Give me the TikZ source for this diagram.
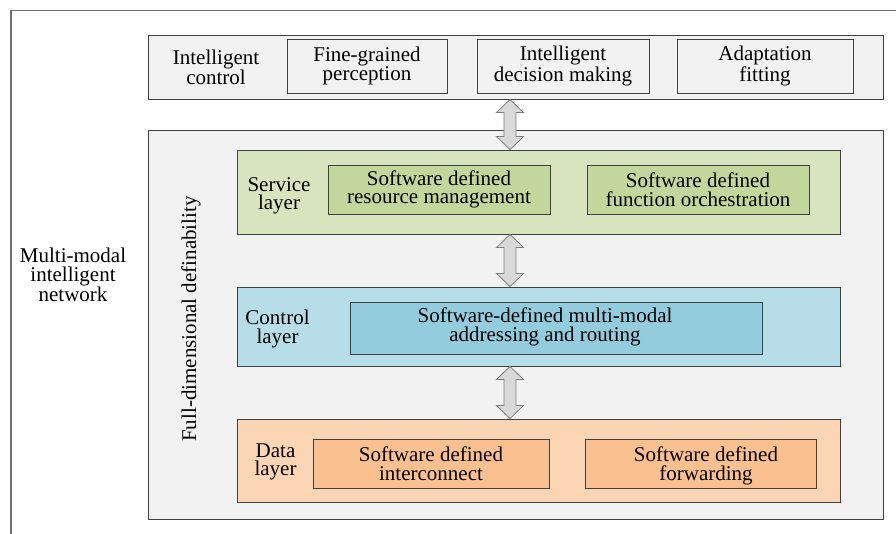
\documentclass[tikz,border=0pt]{standalone}
\usepackage{fontspec}
\setmainfont{Liberation Serif}
\usetikzlibrary{calc}

\definecolor{panelgray}{HTML}{F2F2F2}
\definecolor{framegray}{HTML}{6F6F6F}
\definecolor{edgegray}{HTML}{404040}
\definecolor{svcouter}{HTML}{D7E4BD}
\definecolor{svcinner}{HTML}{C3D69B}
\definecolor{ctlouter}{HTML}{B7DEE8}
\definecolor{ctlinner}{HTML}{93CDDD}
\definecolor{datouter}{HTML}{FCD5B5}
\definecolor{datinner}{HTML}{FAC090}
\definecolor{arrowfill}{HTML}{D9D9D9}
\definecolor{arrowedge}{HTML}{7F7F7F}

\tikzset{
  txt/.style={font=\fontsize{21}{18.5}\selectfont, align=center, inner sep=0pt},
  panel/.style={draw=edgegray, line width=1pt, fill=panelgray, inner sep=0pt},
  layerbox/.style={draw=edgegray, line width=1pt, inner sep=0pt},
  itembox/.style={draw=edgegray, line width=1pt, inner sep=0pt, txt},
  bigarrow/.style={draw=arrowedge, line width=0.8pt, fill=arrowfill, line join=miter},
}

% vertical two-headed block arrow between two stacked boxes
\newcommand\updown[2]{%
  \path[bigarrow] let \p1=(#1.south), \p2=(#2.north) in
    (510pt,\y1) -- (523.5pt,\y1-13pt) -- (516pt,\y1-13pt) -- (516pt,\y2+13pt)
    -- (523.5pt,\y2+13pt) -- (510pt,\y2) -- (496.5pt,\y2+13pt) -- (504pt,\y2+13pt)
    -- (504pt,\y1-13pt) -- (496.5pt,\y1-13pt) -- cycle;}

\begin{document}
\begin{tikzpicture}[x=1pt, y=-1pt]
  \useasboundingbox (0,0) rectangle (896,533);

  % outer frame, open to the right and bottom
  \draw[framegray, line width=1.4pt] (11,540) -- (11,10.5) -- (900,10.5);

  \node[txt] (net) at (73,275) {Multi-modal\\intelligent\\network};

  % top row: intelligence functions
  \node[panel, minimum width=735pt, minimum height=64pt] (top) at (515.5,67) {};
  \node[txt] (ictl) at (216,67) {Intelligent\\control};
  \node[itembox, fill=panelgray, minimum width=160pt, minimum height=54pt] (fgp) at (367,66) {Fine-grained\\perception};
  \node[itembox, fill=panelgray, minimum width=172pt, minimum height=54pt] (idm) at (563,66) {Intelligent\\decision making};
  \node[itembox, fill=panelgray, minimum width=176pt, minimum height=54pt] (adf) at (765,66) {Adaptation\\fitting};

  % definability panel
  \node[panel, minimum width=735pt, minimum height=389pt] (big) at (515.5,324.5) {};
  \node[txt, rotate=90] (fdd) at (191,319) {Full-dimensional definability};

  % service layer
  \node[layerbox, fill=svcouter, minimum width=603pt, minimum height=84pt] (svc) at (538.5,192) {};
  \node[txt] (svclab) at (279,196) {Service\\layer};
  \node[itembox, fill=svcinner, minimum width=222pt, minimum height=49pt] (srm) at (439,189.5) {Software defined\\resource management};
  \node[itembox, fill=svcinner, minimum width=222pt, minimum height=49pt] (sfo) at (698,189.5) {Software defined\\function orchestration};

  % control layer
  \node[layerbox, fill=ctlouter, minimum width=603pt, minimum height=79pt] (ctl) at (538.5,326.5) {};
  \node[txt] (ctllab) at (277.5,329) {Control\\layer};
  \node[layerbox, fill=ctlinner, minimum width=412pt, minimum height=52pt] (adr) at (556,328) {};
  \node[txt] (adrtext) at (545,327) {Software-defined multi-modal\\addressing and routing};

  % data layer
  \node[layerbox, fill=datouter, minimum width=603pt, minimum height=83pt] (dat) at (538.5,460.5) {};
  \node[txt] (datlab) at (275.5,462) {Data\\layer};
  \node[itembox, fill=datinner, minimum width=236pt, minimum height=49pt] (sdi) at (431,463.5) {Software defined\\interconnect};
  \node[layerbox, fill=datinner, minimum width=231pt, minimum height=49pt] (sdf) at (700.5,463.5) {};
  \node[txt] (sdftext) at (706,466) {Software defined\\forwarding};

  % links between the stacked blocks
  \updown{top}{svc}
  \updown{svc}{ctl}
  \updown{ctl}{dat}
\end{tikzpicture}
\end{document}
